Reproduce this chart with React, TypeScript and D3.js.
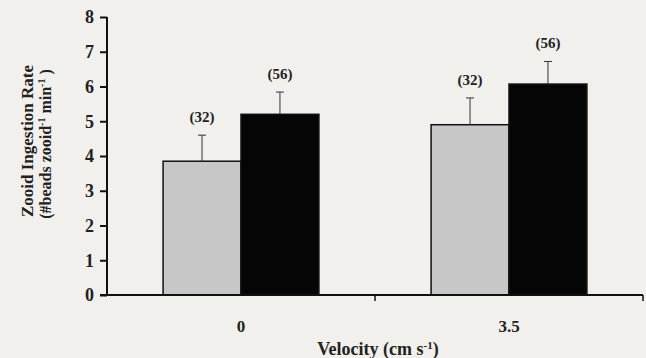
import React, { useEffect, useRef } from "react";
import * as d3 from "d3";

const velocities = ["0", "3.5"];
const groups = ["a", "b"];
const means = [
  [3.85, 5.2],
  [4.9, 6.07],
];
const errTops = [
  [4.6, 5.84],
  [5.67, 6.72],
];
const counts = [
  ["(32)", "(56)"],
  ["(32)", "(56)"],
];
const yTicks = [0, 1, 2, 3, 4, 5, 6, 7, 8];

const App = () => {
  const ref = useRef<SVGSVGElement>(null);

  useEffect(() => {
    const width = 646, height = 358;
    const left = 107, right = 643, top = 17, bottom = 295;
    const svg = d3.select(ref.current).attr("width", width).attr("height", height);
    svg.selectAll("*").remove();

    svg.append("rect").attr("width", width).attr("height", height).attr("fill", "#f2f0ed");

    const font = "'Liberation Serif', 'Times New Roman', serif";

    const x = d3.scaleBand().domain(velocities).range([left, right]).padding(0);
    const xs = d3.scaleBand().domain(groups).range([0, x.bandwidth()]).paddingInner(0).paddingOuter(0.72);
    const y = d3.scaleLinear().domain([0, 8]).range([bottom, top]);

    const fills = ["#c7c7c7", "#050505"];

    velocities.forEach((v, i) => {
      const g = svg.append("g").attr("transform", `translate(${x(v)},0)`);
      groups.forEach((s, j) => {
        const bx = xs(s)!;
        const bw = xs.bandwidth();
        g.append("rect")
          .attr("x", bx)
          .attr("y", y(means[i][j]))
          .attr("width", bw)
          .attr("height", y(0) - y(means[i][j]))
          .attr("fill", fills[j])
          .attr("stroke", "#111")
          .attr("stroke-width", 1.5);
        const cx = bx + bw / 2;
        g.append("line")
          .attr("x1", cx).attr("x2", cx)
          .attr("y1", y(means[i][j])).attr("y2", y(errTops[i][j]))
          .attr("stroke", "#333").attr("stroke-width", 1);
        g.append("line")
          .attr("x1", cx - 4).attr("x2", cx + 4)
          .attr("y1", y(errTops[i][j])).attr("y2", y(errTops[i][j]))
          .attr("stroke", "#333").attr("stroke-width", 1);
        g.append("text")
          .attr("x", cx)
          .attr("y", y(errTops[i][j]) - 13)
          .attr("text-anchor", "middle")
          .attr("font-family", font)
          .attr("font-weight", "bold")
          .attr("font-size", 15)
          .attr("fill", "#222")
          .text(counts[i][j]);
      });
    });

    // y axis
    const ya = svg.append("g").attr("transform", `translate(${left},0)`)
      .call(d3.axisLeft(y).tickValues(yTicks).tickFormat(d3.format("d")).tickSize(7).tickPadding(6));
    ya.select(".domain").attr("stroke", "#111").attr("stroke-width", 2).attr("d", `M0,${top}V${bottom}`);
    ya.selectAll(".tick line").attr("stroke", "#111").attr("stroke-width", 2);
    ya.selectAll(".tick text").attr("font-family", font).attr("font-weight", "bold").attr("font-size", 18).attr("fill", "#222");

    // x axis
    const xa = svg.append("g").attr("transform", `translate(0,${bottom})`);
    xa.append("line").attr("x1", left - 7).attr("x2", right).attr("y1", 0).attr("y2", 0)
      .attr("stroke", "#111").attr("stroke-width", 2);
    const bounds = [x(velocities[1])!, right];
    bounds.forEach((b) => {
      xa.append("line").attr("x1", b).attr("x2", b).attr("y1", 0).attr("y2", 6)
        .attr("stroke", "#111").attr("stroke-width", 1.5);
    });
    velocities.forEach((v) => {
      xa.append("text")
        .attr("x", x(v)! + x.bandwidth() / 2)
        .attr("y", 37)
        .attr("text-anchor", "middle")
        .attr("font-family", font).attr("font-weight", "bold").attr("font-size", 17).attr("fill", "#222")
        .text(v);
    });

    const xt = svg.append("text")
      .attr("x", (left + right) / 2 + 3)
      .attr("y", 355)
      .attr("text-anchor", "middle")
      .attr("font-family", font).attr("font-weight", "bold").attr("font-size", 18).attr("fill", "#222");
    xt.append("tspan").text("Velocity (cm s");
    xt.append("tspan").attr("dy", -6).attr("font-size", 11).text("-1");
    xt.append("tspan").attr("dy", 6).text(")");

    // y title
    const yt = svg.append("g").attr("transform", "translate(0,141) rotate(-90)");
    yt.append("text")
      .attr("x", 0).attr("y", 33)
      .attr("text-anchor", "middle")
      .attr("font-family", font).attr("font-weight", "bold").attr("font-size", 17).attr("fill", "#222")
      .text("Zooid Ingestion Rate");
    const yt2 = yt.append("text")
      .attr("x", -3).attr("y", 51)
      .attr("text-anchor", "middle")
      .attr("font-family", font).attr("font-weight", "bold").attr("font-size", 16).attr("fill", "#222");
    yt2.append("tspan").text("(#beads zooid");
    yt2.append("tspan").attr("dy", -6).attr("font-size", 10).text("-1");
    yt2.append("tspan").attr("dy", 6).text("  min");
    yt2.append("tspan").attr("dy", -6).attr("font-size", 10).text("-1");
    yt2.append("tspan").attr("dy", 6).text(" )");
  }, []);

  return <svg ref={ref} style={{ position: "absolute", left: 0, top: 0 }}></svg>;
};

export default App;
